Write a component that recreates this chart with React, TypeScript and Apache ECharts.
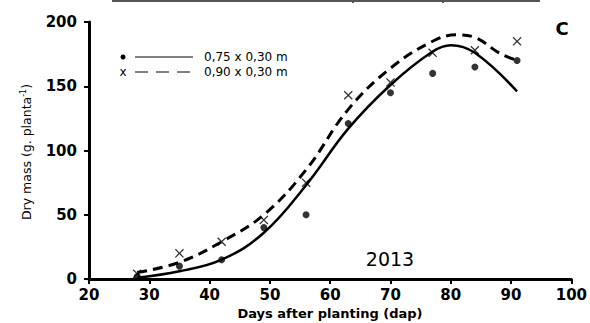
import React, { useEffect, useRef } from "react";
import * as echarts from "echarts";

const days = [28, 35, 42, 49, 56, 63, 70, 77, 84, 91];
const dots075 = [2, 10, 15, 40, 50, 121, 145, 160, 165, 170];
const cross090 = [4, 20, 29, 46, 75, 143, 153, 176, 178, 185];

const fitDays075 = [28, 35, 42, 49, 56, 63, 70, 77, 80, 84, 91];
const fit075 = [1, 6, 15, 36, 73, 117, 151, 177, 182, 176, 146];
const fitDays090 = [28, 35, 42, 49, 56, 63, 70, 77, 81, 84, 88, 91];
const fit090 = [5, 13, 29, 50, 85, 132, 164, 185, 190, 188, 176, 170];

const xTicks = [20, 30, 40, 50, 60, 70, 80, 90, 100];
const yTicks = [0, 50, 100, 150, 200];

const legendLabels = ["0,75 x 0,30 m", "0,90 x 0,30 m"];

const CROSS = "path://M0,1 L1,0 L5,4 L9,0 L10,1 L6,5 L10,9 L9,10 L5,6 L1,10 L0,9 L4,5 Z";

export default function App() {
  const ref = useRef<HTMLDivElement>(null);
  useEffect(() => {
    if (!ref.current) return;
    const chart = echarts.init(ref.current, null, { renderer: "svg" });
    const font = "DejaVu Sans";
    chart.setOption({
      animation: false,
      backgroundColor: "#ffffff",
      grid: { left: 89, right: 16, top: 22, bottom: 44 },
      xAxis: {
        type: "value",
        min: xTicks[0],
        max: xTicks[xTicks.length - 1],
        interval: 10,
        splitLine: { show: false },
        axisLine: { lineStyle: { color: "#000", width: 3 } },
        axisTick: { inside: false, length: 5, lineStyle: { color: "#000", width: 2 } },
        axisLabel: { color: "#000", fontFamily: font, fontWeight: "bold", fontSize: 15, margin: 8 },
      },
      yAxis: {
        type: "value",
        min: yTicks[0],
        max: yTicks[yTicks.length - 1],
        interval: 50,
        splitLine: { show: false },
        axisLine: { show: true, lineStyle: { color: "#000", width: 3 } },
        axisTick: { show: true, inside: false, length: 5, lineStyle: { color: "#000", width: 2 } },
        axisLabel: { color: "#000", fontFamily: font, fontWeight: "bold", fontSize: 15, margin: 12 },
      },
      series: [
        {
          type: "line",
          data: fitDays075.map((d, i) => [d, fit075[i]]),
          smooth: 0.4,
          showSymbol: false,
          lineStyle: { color: "#000", width: 2.5 },
          z: 2,
        },
        {
          type: "line",
          data: fitDays090.map((d, i) => [d, fit090[i]]),
          smooth: 0.4,
          showSymbol: false,
          lineStyle: { color: "#000", width: 3, type: [10, 6] },
          z: 2,
        },
        {
          type: "scatter",
          data: days.map((d, i) => [d, dots075[i]]),
          symbol: "circle",
          symbolSize: 7,
          itemStyle: { color: "#000" },
          z: 3,
        },
        {
          type: "scatter",
          data: days.map((d, i) => [d, cross090[i]]),
          symbol: CROSS,
          symbolSize: 9,
          itemStyle: { color: "#000" },
          z: 3,
        },
      ],
      graphic: [
        { type: "rect", shape: { x: 112, y: 0, width: 428, height: 2 }, style: { fill: "#555" } },
        { type: "rect", shape: { x: 352, y: 0, width: 2, height: 3 }, style: { fill: "#555" } },
        { type: "rect", shape: { x: 442, y: 0, width: 2, height: 3 }, style: { fill: "#555" } },
        { type: "circle", shape: { cx: 123, cy: 57, r: 2.5 }, style: { fill: "#000" } },
        { type: "line", shape: { x1: 135, y1: 57, x2: 193, y2: 57 }, style: { stroke: "#000", lineWidth: 1 } },
        {
          type: "text",
          x: 204,
          y: 57,
          style: { text: legendLabels[0], font: `12px '${font}'`, fill: "#000", verticalAlign: "middle" },
        },
        {
          type: "text",
          x: 123,
          y: 72,
          style: { text: "x", font: `12px '${font}'`, fill: "#000", align: "center", verticalAlign: "middle" },
        },
        {
          type: "line",
          shape: { x1: 135, y1: 72, x2: 197, y2: 72 },
          style: { stroke: "#000", lineWidth: 1, lineDash: [13, 8] },
        },
        {
          type: "text",
          x: 204,
          y: 72,
          style: { text: legendLabels[1], font: `12px '${font}'`, fill: "#000", verticalAlign: "middle" },
        },
        {
          type: "text",
          x: 562,
          y: 28,
          style: { text: "C", font: `bold 18px '${font}'`, fill: "#000", align: "center", verticalAlign: "middle" },
        },
        {
          type: "text",
          x: 390,
          y: 259,
          style: { text: "2013", font: `19px '${font}'`, fill: "#000", align: "center", verticalAlign: "middle" },
        },
        {
          type: "text",
          x: 330,
          y: 313,
          style: {
            text: "Days after planting (dap)",
            font: `bold 13px '${font}'`,
            fill: "#000",
            align: "center",
            verticalAlign: "middle",
          },
        },
        {
          type: "group",
          x: 26,
          y: 148,
          rotation: Math.PI / 2,
          children: [
            {
              type: "text",
              x: -4,
              y: 0,
              style: {
                rich: {
                  n: { font: `12.5px '${font}'`, fill: "#000" },
                  s: { font: `8px '${font}'`, fill: "#000", verticalAlign: "top", padding: [0, 0, 6, 0] },
                },
                text: "{n|Dry mass (g. planta}{s|-1}{n|)}",
                align: "center",
                verticalAlign: "middle",
              },
            },
          ],
        },
      ],
    });
    return () => chart.dispose();
  }, []);
  return <div ref={ref} style={{ width: 590, height: 323, position: "absolute", left: 0, top: 0 }} />;
}
